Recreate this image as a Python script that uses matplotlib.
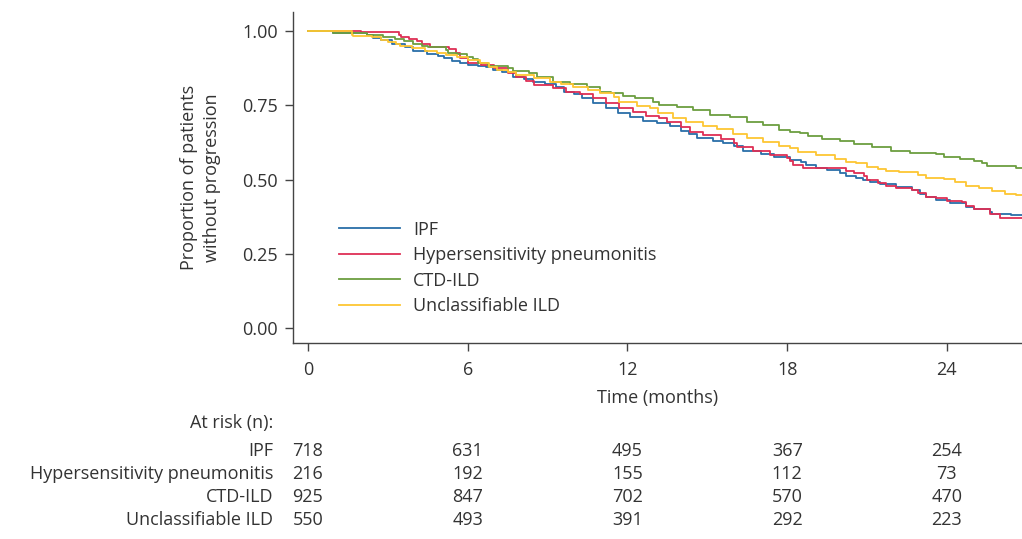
import matplotlib
matplotlib.use("Agg")
import matplotlib.pyplot as plt
from matplotlib.transforms import blended_transform_factory

plt.rcParams["font.family"] = ["Open Sans", "DejaVu Sans"]

# Kaplan-Meier steps: (month, proportion without progression)
ipf = [(0, 1.0), (0.95, 0.994), (2.2, 0.987), (2.45, 0.975), (2.75, 0.970), (3.14, 0.958),
       (3.64, 0.945), (3.95, 0.934), (4.46, 0.923), (4.9, 0.916), (5.1, 0.908), (5.4, 0.899),
       (5.7, 0.891), (6.02, 0.886), (6.4, 0.882), (6.7, 0.878), (6.96, 0.869), (7.3, 0.863),
       (7.7, 0.846), (8.1, 0.838), (8.46, 0.829), (8.9, 0.822), (9.3, 0.810), (9.6, 0.796),
       (10.0, 0.787), (10.3, 0.773), (10.7, 0.756), (11.2, 0.742), (11.65, 0.723), (12.1, 0.709),
       (12.6, 0.697), (13.1, 0.689), (13.6, 0.681), (14.0, 0.664), (14.3, 0.652), (14.6, 0.641),
       (15.2, 0.630), (15.6, 0.622), (16.0, 0.614), (16.35, 0.597), (17.0, 0.586), (17.5, 0.575),
       (18.1, 0.566), (18.5, 0.558), (18.7, 0.549), (19.1, 0.540), (19.5, 0.532), (20.0, 0.523),
       (20.2, 0.513), (20.6, 0.504), (20.85, 0.500), (21.1, 0.493), (21.5, 0.485), (22.1, 0.474),
       (22.7, 0.465), (23.0, 0.451), (23.2, 0.440), (23.6, 0.431), (24.1, 0.420), (24.7, 0.408),
       (25.0, 0.401), (25.6, 0.392), (25.7, 0.384), (26.4, 0.380), (26.9, 0.380)]

hp = [(0, 1.0), (2.0, 0.997), (3.4, 0.988), (3.5, 0.981), (3.8, 0.972), (4.1, 0.966),
      (4.3, 0.956), (4.6, 0.945), (5.3, 0.940), (5.56, 0.925), (5.7, 0.910), (6.0, 0.893),
      (6.5, 0.886), (7.0, 0.875), (7.5, 0.858), (7.8, 0.846), (8.2, 0.832), (8.5, 0.818),
      (9.2, 0.807), (9.7, 0.796), (10.2, 0.787), (10.7, 0.773), (11.2, 0.759), (11.7, 0.742),
      (12.2, 0.728), (12.7, 0.714), (13.2, 0.708), (13.5, 0.695), (14.0, 0.678), (14.35, 0.661),
      (14.85, 0.650), (15.5, 0.636), (16.0, 0.624), (16.1, 0.608), (16.7, 0.596), (17.35, 0.582),
      (18.0, 0.571), (18.1, 0.562), (18.2, 0.549), (18.6, 0.540), (19.1, 0.538), (20.2, 0.529),
      (20.5, 0.521), (20.9, 0.512), (21.0, 0.498), (21.4, 0.489), (21.7, 0.478), (22.1, 0.470),
      (22.7, 0.465), (22.9, 0.454), (23.2, 0.442), (23.6, 0.437), (24.0, 0.429), (24.55, 0.423),
      (24.7, 0.411), (25.0, 0.400), (25.6, 0.384), (26.0, 0.371), (26.9, 0.371)]

ctd = [(0, 1.0), (0.95, 0.994), (2.2, 0.987), (2.8, 0.979), (3.27, 0.973), (3.6, 0.966),
       (3.95, 0.958), (4.27, 0.951), (4.5, 0.947), (5.2, 0.936), (5.25, 0.925), (5.6, 0.921),
       (5.96, 0.914), (6.2, 0.905), (6.4, 0.893), (6.77, 0.883), (7.5, 0.874), (7.7, 0.866),
       (8.3, 0.858), (8.6, 0.846), (9.2, 0.829), (9.84, 0.822), (10.47, 0.810), (10.97, 0.796),
       (11.4, 0.790), (11.84, 0.781), (12.3, 0.775), (12.97, 0.762), (13.2, 0.751), (13.85, 0.745),
       (14.47, 0.734), (15.1, 0.717), (15.85, 0.709), (16.5, 0.695), (17.1, 0.684), (17.7, 0.667),
       (18.1, 0.659), (18.48, 0.655), (18.8, 0.648), (19.3, 0.636), (19.98, 0.631), (20.5, 0.618),
       (21.2, 0.610), (21.9, 0.597), (22.6, 0.590), (23.6, 0.585), (23.9, 0.577), (24.5, 0.570),
       (25.0, 0.562), (25.3, 0.555), (25.5, 0.547), (26.6, 0.538), (26.9, 0.538)]

uild = [(0, 1.0), (1.64, 0.987), (1.7, 0.983), (2.4, 0.979), (2.75, 0.970), (3.0, 0.964),
        (3.3, 0.956), (3.46, 0.949), (3.9, 0.942), (4.4, 0.934), (4.83, 0.927), (5.2, 0.919),
        (5.6, 0.911), (6.0, 0.902), (6.46, 0.893), (6.8, 0.880), (7.1, 0.869), (7.5, 0.861),
        (7.8, 0.852), (8.5, 0.842), (9.1, 0.829), (9.5, 0.822), (9.96, 0.812), (10.5, 0.801),
        (10.97, 0.790), (11.5, 0.779), (11.7, 0.762), (12.35, 0.747), (12.85, 0.740), (13.15, 0.723),
        (13.7, 0.706), (14.2, 0.693), (14.85, 0.681), (15.35, 0.669), (15.97, 0.653), (16.5, 0.639),
        (17.1, 0.627), (17.7, 0.613), (18.1, 0.605), (18.4, 0.592), (19.1, 0.581), (19.8, 0.569),
        (20.2, 0.560), (20.6, 0.555), (21.0, 0.543), (21.4, 0.534), (21.7, 0.530), (22.2, 0.524),
        (22.9, 0.515), (23.2, 0.506), (23.9, 0.502), (24.3, 0.493), (24.7, 0.478), (25.2, 0.470),
        (25.7, 0.462), (26.2, 0.451), (26.6, 0.448), (26.9, 0.448)]

groups = ["IPF", "Hypersensitivity pneumonitis", "CTD-ILD", "Unclassifiable ILD"]
colors = ["#2a6ea8", "#de2f55", "#6c9e40", "#fdc633"]
curves = [ipf, hp, ctd, uild]

risk_times = [0, 6, 12, 18, 24]
at_risk = {
    "IPF": [718, 631, 495, 367, 254],
    "Hypersensitivity pneumonitis": [216, 192, 155, 112, 73],
    "CTD-ILD": [925, 847, 702, 570, 470],
    "Unclassifiable ILD": [550, 493, 391, 292, 223],
}

fs = 13
text_col = "#333333"

fig = plt.figure(figsize=(10.22, 5.39), dpi=100)
ax = fig.add_axes([0.2867, 0.3636, 0.7133, 0.6141])

for name, col, pts in zip(groups, colors, curves):
    t = [p[0] for p in pts]
    s = [p[1] for p in pts]
    ax.step(t, s, where="post", color=col, lw=1.3, label=name)

ax.set_xlim(-0.563, 26.82)
ax.set_ylim(-0.0505, 1.064)
ax.set_xticks([0, 6, 12, 18, 24])
ax.set_yticks([0, 0.25, 0.5, 0.75, 1.0])
ax.set_yticklabels(["0.00", "0.25", "0.50", "0.75", "1.00"])
for side in ["top", "right"]:
    ax.spines[side].set_visible(False)
for side in ["left", "bottom"]:
    ax.spines[side].set_color("#444444")
    ax.spines[side].set_linewidth(1.0)
ax.tick_params(colors="#444444", labelcolor=text_col, labelsize=fs, length=6, width=1.0)
ax.tick_params(axis="x", pad=7)
ax.tick_params(axis="y", pad=5)

ax.set_xlabel("Time (months)", fontsize=fs, color=text_col, labelpad=7)
ax.set_ylabel("Proportion of patients\nwithout progression", fontsize=fs, color=text_col,
              linespacing=1.4, labelpad=15)

leg = ax.legend(loc="upper left", bbox_to_anchor=(0.063, 0.37), frameon=False, fontsize=fs,
                handlelength=3.4, handletextpad=0.72, labelspacing=0.42, borderaxespad=0,
                borderpad=0)
for txt in leg.get_texts():
    txt.set_color(text_col)

# at-risk table under the axis
trans = blended_transform_factory(ax.transData, fig.transFigure)
fig.text(273 / 1022, 1 - 423 / 539, "At risk (n):", ha="right", va="center", fontsize=fs, color=text_col)
row_y = [451, 474, 497, 520]
for name, yy in zip(groups, row_y):
    fig.text(273 / 1022, 1 - yy / 539, name, ha="right", va="center", fontsize=fs, color=text_col)
    for tt, n in zip(risk_times, at_risk[name]):
        ax.text(tt, 1 - yy / 539, str(n), transform=trans, ha="center", va="center",
                fontsize=fs, color=text_col)

fig.savefig("out.png", dpi=100)
